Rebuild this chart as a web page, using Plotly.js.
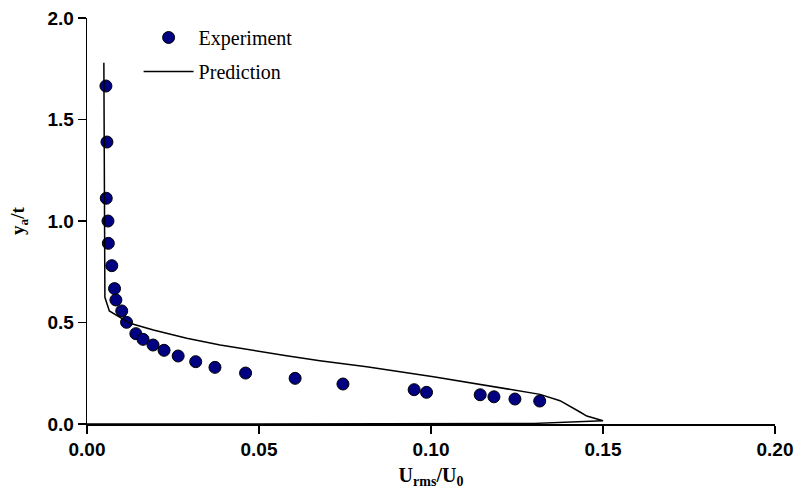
<!DOCTYPE html>
<html>
<head>
<meta charset="utf-8">
<script src="https://cdn.plot.ly/plotly-3.0.1.min.js"></script>
<style>html,body{margin:0;padding:0;background:#fff;}#chart{width:799px;height:495px;}</style>
</head>
<body>
<div id="chart"></div>
<script>
// Experiment data
const expX = [0.0055, 0.0058, 0.0056, 0.0061, 0.0062, 0.0072, 0.0080, 0.0084, 0.0101, 0.0115, 0.0142, 0.0163, 0.0192, 0.0224, 0.0265, 0.0316, 0.0372, 0.0461, 0.0605, 0.0744, 0.0951, 0.0987, 0.1143, 0.1183, 0.1244, 0.1316];
const expY = [1.665, 1.389, 1.112, 1.0, 0.890, 0.780, 0.667, 0.611, 0.557, 0.501, 0.445, 0.417, 0.389, 0.363, 0.335, 0.307, 0.279, 0.251, 0.225, 0.197, 0.169, 0.156, 0.144, 0.134, 0.123, 0.113];
// Prediction curve
const predX = [0.0049, 0.0050, 0.0051, 0.0052, 0.0065, 0.0125, 0.0193, 0.0290, 0.0387, 0.0484, 0.0580, 0.0677, 0.0813, 0.1007, 0.1142, 0.1239, 0.1317, 0.1375, 0.1414, 0.1433, 0.1453, 0.1477, 0.1500, 0.1300, 0.1000, 0.0500, 0.0];
const predY = [1.78, 1.20, 0.90, 0.624, 0.557, 0.496, 0.463, 0.422, 0.389, 0.361, 0.336, 0.312, 0.282, 0.233, 0.1955, 0.171, 0.146, 0.115, 0.080, 0.059, 0.039, 0.026, 0.016, 0.003, 0.001, 0.0003, 0.0];
const xTicks = [0, 0.05, 0.10, 0.15, 0.20];
const xTickText = ['0.00', '0.05', '0.10', '0.15', '0.20'];
const yTicks = [0, 0.5, 1.0, 1.5, 2.0];
const yTickText = ['0.0', '0.5', '1.0', '1.5', '2.0'];

const traces = [
  {
    x: expX, y: expY, type: 'scatter', mode: 'markers', name: 'Experiment',
    legendgroup: 'a',
    marker: {size: 12, color: '#000080', line: {color: '#000000', width: 1}},
    cliponaxis: false
  },
  {
    x: predX, y: predY, type: 'scatter', mode: 'lines', name: 'Prediction',
    legendgroup: 'b',
    line: {color: '#000000', width: 1.5},
    cliponaxis: false
  }
];

const tickFont = {family: 'Liberation Sans, Arial, sans-serif', size: 19, color: '#000', weight: 'bold'};
const layout = {
  width: 799, height: 495,
  margin: {l: 87, r: 24, t: 18, b: 71},
  paper_bgcolor: '#fff', plot_bgcolor: '#fff',
  showlegend: true,
  legend: {
    x: 0.075, y: 1.0, xanchor: 'left', yanchor: 'top',
    font: {family: 'Liberation Serif, Times New Roman, serif', size: 20, color: '#000'},
    bgcolor: 'rgba(0,0,0,0)', traceorder: 'grouped', tracegroupgap: 5,
    itemwidth: 50
  },
  xaxis: {
    range: [0, 0.2], tickvals: xTicks, ticktext: xTickText,
    showgrid: false, zeroline: false, showline: true, linecolor: '#000', linewidth: 1.5,
    ticks: 'outside', ticklen: 8, tickwidth: 1.3, tickcolor: '#000',
    tickfont: tickFont,
    title: {text: '<b>U<sub>rms</sub>/U<sub>0</sub></b>', font: {family: 'Liberation Serif, Times New Roman, serif', size: 20, color: '#000'}, standoff: 8}
  },
  yaxis: {
    range: [0, 2.0], tickvals: yTicks, ticktext: yTickText,
    showgrid: false, zeroline: false, showline: true, linecolor: '#000', linewidth: 1.3,
    ticks: 'outside', ticklen: 8, tickwidth: 1.3, tickcolor: '#000',
    tickfont: tickFont,
    title: {text: '<b>y<sub>a</sub>/t</b>', font: {family: 'Liberation Serif, Times New Roman, serif', size: 19, color: '#000'}, standoff: 17}
  }
};
Plotly.newPlot('chart', traces, layout, {displayModeBar: false, staticPlot: true});
</script>
</body>
</html>
